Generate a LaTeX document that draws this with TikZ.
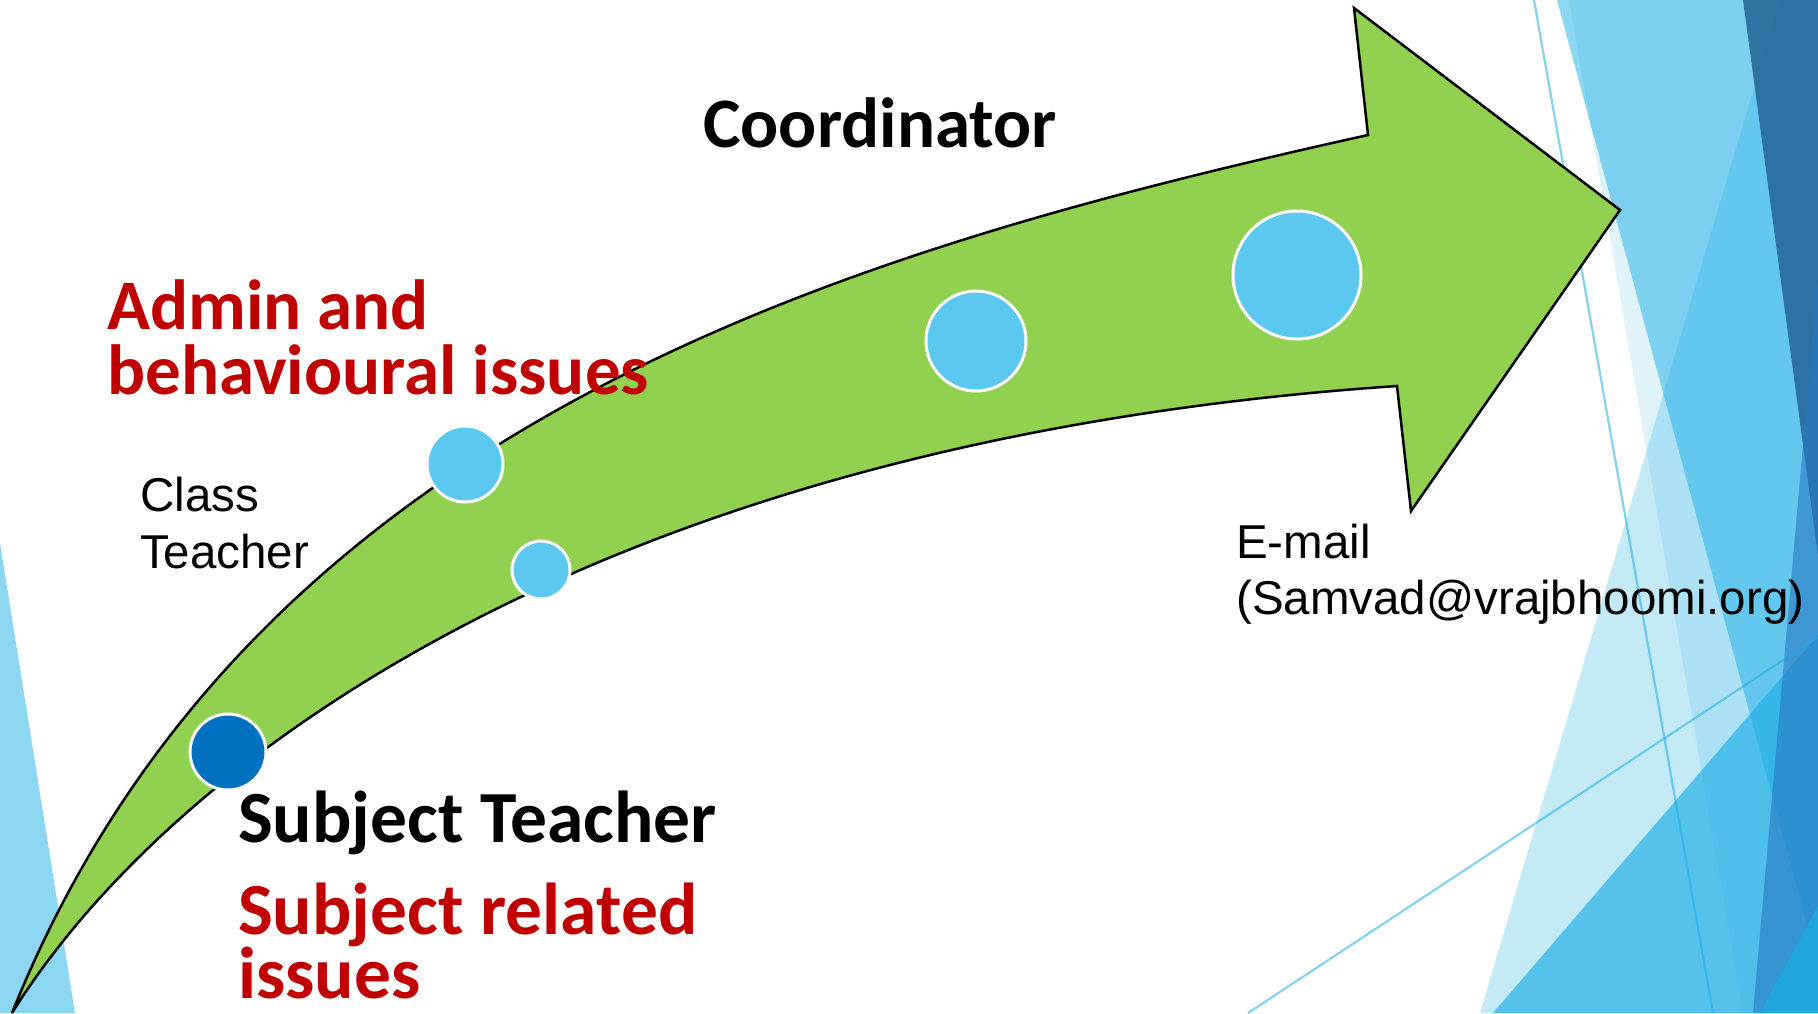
\documentclass[tikz,border=0pt]{standalone}
\usepackage{fontspec}
\setmainfont{Liberation Sans}
\newfontfamily\carlito{Carlito}
\definecolor{facet}{RGB}{28,173,228}
\definecolor{navyA}{RGB}{36,100,150}
\definecolor{navyB}{RGB}{40,120,195}
\definecolor{brightB}{RGB}{32,165,220}
\definecolor{arrowgreen}{RGB}{146,208,80}
\definecolor{bubbleblue}{RGB}{91,201,239}
\definecolor{darkbubble}{RGB}{0,112,192}
\definecolor{issuered}{RGB}{192,0,0}
\tikzset{
  bubble/.style={circle, fill=bubbleblue, draw=white, line width=3pt, inner sep=0pt},
  boldtxt/.style={font=\carlito\bfseries\fontsize{71}{85}\selectfont, inner sep=0pt, anchor=base west},
  bigbold/.style={font=\carlito\bfseries\fontsize{73.5}{88}\selectfont, inner sep=0pt, anchor=base west},
  plaintxt/.style={font=\fontsize{47.5}{57}\selectfont, inner sep=0pt, anchor=base west, text=black},
  deco/.style={facet, opacity=0.55, line width=2.2pt}
}
\begin{document}
\begin{tikzpicture}[x=1pt,y=-1pt]
\useasboundingbox (0,0) rectangle (1818,1013);
% background facets
\fill[facet,opacity=0.5] (0,543) -- (75,1013) -- (0,1013) -- cycle;
\fill[facet,opacity=0.5] (1557,0) -- (1818,0) -- (1818,966) -- cycle;
\fill[facet,opacity=0.14] (1569,0) -- (1818,0) -- (1818,1013) -- (1743,1013) -- cycle;
\fill[facet,opacity=0.26] (1780,0) -- (1818,0) -- (1818,1013) -- (1480,1013) -- cycle;
\fill[facet,opacity=0.66] (1493,1013) -- (1818,635) -- (1818,1013) -- cycle;
\fill[navyA,opacity=0.85] (1743,0) -- (1818,0) -- (1818,556) -- cycle;
\fill[navyB,opacity=0.6] (1818,274) -- (1818,1013) -- (1753,1013) -- cycle;
\fill[brightB] (1760,1013) -- (1818,906) -- (1818,1013) -- cycle;
\coordinate (l1a) at (1534,0);
\coordinate (l1b) at (1713,1013);
\coordinate (l2a) at (1248,1013);
\coordinate (l2b) at (1818,637);
\draw[deco] (l1a) -- (l1b);
\draw[deco] (l2a) -- (l2b);
% curved arrow
\filldraw[fill=arrowgreen, draw=black, line width=2.5pt, line join=miter]
  (12,1013) .. controls (250,420) and (850,250) .. (1368,135)
  -- (1354,8) -- (1620,210) -- (1411,511) -- (1397,386)
  .. controls (600,440) and (170,760) .. (12,1013) -- cycle;
% bubbles
\node[bubble, minimum size=76pt, fill=darkbubble] (st) at (228,752) {};
\node[bubble, minimum size=76pt] (ct) at (465,464) {};
\node[bubble, minimum size=58pt] (sm) at (541,570) {};
\node[bubble, minimum size=100pt] (co) at (976,341) {};
\node[bubble, minimum size=128pt] (em) at (1297,275) {};
% texts
\node[boldtxt] (coord) at (703,147) {Coordinator};
\node[boldtxt, text=issuered] (adm1) at (107,329) {Admin and};
\node[boldtxt, text=issuered] (adm2) at (107,394) {behavioural issues};
\node[bigbold] (subj) at (238,842) {Subject Teacher};
\node[bigbold, text=issuered] (srel1) at (238,934) {Subject related};
\node[bigbold, text=issuered] (srel2) at (238,998) {issues};
\node[plaintxt] (cls1) at (140,511) {Class};
\node[plaintxt] (cls2) at (140,568) {Teacher};
\node[plaintxt] (mail1) at (1236,558) {E-mail};
\node[plaintxt] (mail2) at (1236,614) {(Samvad@vrajbhoomi.org)};
\end{tikzpicture}
\end{document}
